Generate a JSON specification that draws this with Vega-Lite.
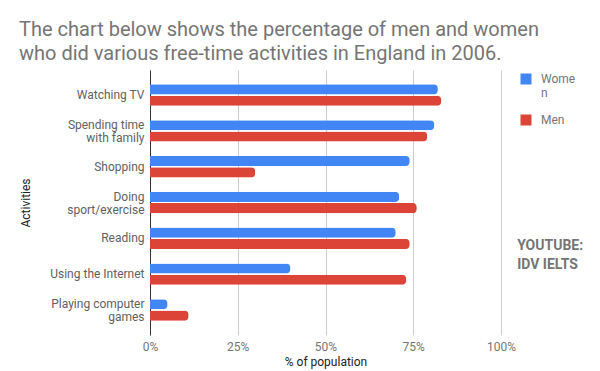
{
  "$schema": "https://vega.github.io/schema/vega-lite/v6.json",
  "width": 351,
  "height": 265,
  "autosize": "none",
  "padding": {"left": 150, "top": 70, "right": 99, "bottom": 36},
  "config": {"font": "Roboto", "view": {"stroke": null}},
  "title": {
    "text": ["The chart below shows the percentage of men and women", "who did various free-time activities in England in 2006."],
    "anchor": "start",
    "frame": "group",
    "dx": -131,
    "fontSize": 20,
    "fontWeight": "normal",
    "color": "#757575",
    "lineHeight": 24,
    "offset": 6
  },
  "layer": [
    {
      "data": {
        "values": [
          {"activity": "Watching TV", "gender": "Women", "percent": 82},
          {"activity": "Watching TV", "gender": "Men", "percent": 83},
          {"activity": "Spending time with family", "gender": "Women", "percent": 81},
          {"activity": "Spending time with family", "gender": "Men", "percent": 79},
          {"activity": "Shopping", "gender": "Women", "percent": 74},
          {"activity": "Shopping", "gender": "Men", "percent": 30},
          {"activity": "Doing sport/exercise", "gender": "Women", "percent": 71},
          {"activity": "Doing sport/exercise", "gender": "Men", "percent": 76},
          {"activity": "Reading", "gender": "Women", "percent": 70},
          {"activity": "Reading", "gender": "Men", "percent": 74},
          {"activity": "Using the Internet", "gender": "Women", "percent": 40},
          {"activity": "Using the Internet", "gender": "Men", "percent": 73},
          {"activity": "Playing computer games", "gender": "Women", "percent": 5},
          {"activity": "Playing computer games", "gender": "Men", "percent": 11}
        ]
      },
      "mark": {"type": "bar", "cornerRadiusEnd": 4},
      "encoding": {
        "y": {
          "field": "activity",
          "type": "nominal",
          "sort": null,
          "scale": {"paddingInner": 0.4, "paddingOuter": 0.4},
          "axis": {
            "title": "Activities",
            "titleColor": "#222222",
            "titleFontSize": 12,
            "titleFontWeight": "normal",
            "titleX": -118,
            "labelColor": "#616161",
            "labelFontSize": 12,
            "labelPadding": 6,
            "labelLineHeight": 13,
            "labelLimit": 200,
            "labelOffset": {
              "condition": {"test": "indexof(['Spending time with family','Doing sport/exercise','Playing computer games'], datum.value) >= 0", "value": -6},
              "value": 0
            },
            "ticks": false,
            "domainColor": "#333333",
            "labelExpr": "datum.value == 'Spending time with family' ? ['Spending time','with family'] : datum.value == 'Doing sport/exercise' ? ['Doing','sport/exercise'] : datum.value == 'Playing computer games' ? ['Playing computer','games'] : datum.value"
          }
        },
        "yOffset": {"field": "gender", "sort": ["Women", "Men"], "scale": {"paddingInner": 0.1}},
        "x": {
          "field": "percent",
          "type": "quantitative",
          "scale": {"domain": [0, 100]},
          "axis": {
            "title": "% of population",
            "values": [0, 25, 50, 75, 100],
            "labelExpr": "datum.value + '%'",
            "labelFlush": false,
            "domain": false,
            "ticks": false,
            "gridColor": "#cccccc",
            "labelColor": "#757575",
            "labelFontSize": 12,
            "labelPadding": 6,
            "titleColor": "#222222",
            "titleFontSize": 12,
            "titleFontWeight": "normal",
            "titlePadding": 4
          }
        },
        "color": {
          "field": "gender",
          "type": "nominal",
          "sort": ["Women", "Men"],
          "scale": {"domain": ["Women", "Men"], "range": ["#4285F4", "#DB4437"]},
          "legend": {
            "title": null,
            "orient": "none",
            "legendX": 370,
            "legendY": 3,
            "symbolType": "square",
            "symbolSize": 121,
            "symbolStrokeWidth": 0,
            "symbolOpacity": 1,
            "labelColor": "#757575",
            "labelFontSize": 12,
            "labelOffset": 9,
            "rowPadding": 15,
            "labelExpr": "datum.label == 'Women' ? ['Wome','n'] : datum.label"
          }
        }
      }
    },
    {
      "data": {"values": [{"note": "YOUTUBE: IDV IELTS"}]},
      "mark": {"type": "text", "align": "left", "baseline": "top", "fontWeight": "bold", "fontSize": 14, "color": "#757575", "lineHeight": 19, "dy": 1},
      "encoding": {
        "x": {"datum": 104.6},
        "y": {"datum": "Reading"},
        "text": {"value": ["YOUTUBE:", "IDV IELTS"]}
      }
    }
  ]
}
